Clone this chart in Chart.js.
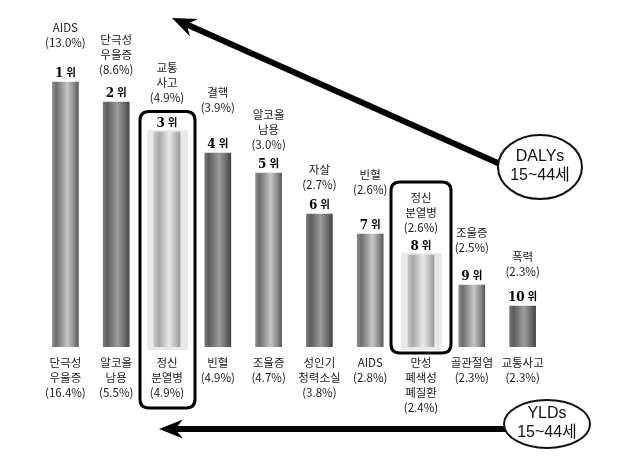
<!DOCTYPE html>
<html>
<head>
<meta charset="utf-8">
<script src="https://cdn.jsdelivr.net/npm/chart.js@4"></script>
<style>
html, body { margin: 0; padding: 0; background: #fff; }
canvas { display: block; }
</style>
</head>
<body>
<canvas id="grafico" width="620" height="466"></canvas>
<script>
// 순위 (DALYs 기준 막대)
var ranks = ['1', '2', '3', '4', '5', '6', '7', '8', '9', '10'];
// 막대 높이 (그림에서 읽은 상대값)
var barHeights = [265, 245, 215, 194, 174, 133, 113, 92, 62, 41];
// 위쪽 라벨: DALYs 15~44세
var dalyLabels = [
    ['AIDS', '(13.0%)'],
    ['단극성', '우울증', '(8.6%)'],
    ['교통', '사고', '(4.9%)'],
    ['결핵', '(3.9%)'],
    ['알코올', '남용', '(3.0%)'],
    ['자살', '(2.7%)'],
    ['빈혈', '(2.6%)'],
    ['정신', '분열병', '(2.6%)'],
    ['조울증', '(2.5%)'],
    ['폭력', '(2.3%)']
];
// 아래쪽 라벨: YLDs 15~44세
var yldLabels = [
    ['단극성', '우울증', '(16.4%)'],
    ['알코올', '남용', '(5.5%)'],
    ['정신', '분열병', '(4.9%)'],
    ['빈혈', '(4.9%)'],
    ['조울증', '(4.7%)'],
    ['성인기', '청력소실', '(3.8%)'],
    ['AIDS', '(2.8%)'],
    ['만성', '폐색성', '폐질환', '(2.4%)'],
    ['골관절염', '(2.3%)'],
    ['교통사고', '(2.3%)']
];
// 정신분열병 위치
var dalyHighlight = 7;
var yldHighlight = 2;

// 막대 색조
var tones = ['mid', 'dark', 'light', 'dark', 'mid', 'dark', 'mid', 'light', 'mid', 'dark'];
var toneStops = {
    mid:   [[0, '#8c8c8c'], [0.15, '#6e6e6e'], [0.58, '#c6c6c6'], [0.85, '#878787'], [1, '#5a5a5a']],
    dark:  [[0, '#7a7a7a'], [0.15, '#5c5c5c'], [0.55, '#9c9c9c'], [0.85, '#666666'], [1, '#434343']],
    light: [[0, '#c4c4c4'], [0.2, '#a9a9a9'], [0.58, '#e8e8e8'], [0.85, '#b8b8b8'], [1, '#9c9c9c']]
};
// 위쪽 라벨 미세 조정
var labelLift = [5, -2, 0, 11, -6, -5, 10, -7, 3, 0];

var FONT = '"Noto Sans CJK KR", "Noto Sans", sans-serif';

function barFill(ctx) {
    var chart = ctx.chart;
    var xs = chart.scales.x;
    if (!xs || ctx.type !== 'data') return '#888';
    var cx = xs.getPixelForValue(ctx.dataIndex);
    if (!isFinite(cx)) return '#888';
    var g = chart.ctx.createLinearGradient(cx - 13, 0, cx + 13, 0);
    toneStops[tones[ctx.dataIndex]].forEach(function (s) { g.addColorStop(s[0], s[1]); });
    return g;
}

function roundRect(c, x, y, w, h, r) {
    c.beginPath();
    c.moveTo(x + r, y);
    c.lineTo(x + w - r, y);
    c.quadraticCurveTo(x + w, y, x + w, y + r);
    c.lineTo(x + w, y + h - r);
    c.quadraticCurveTo(x + w, y + h, x + w - r, y + h);
    c.lineTo(x + r, y + h);
    c.quadraticCurveTo(x, y + h, x, y + h - r);
    c.lineTo(x, y + r);
    c.quadraticCurveTo(x, y, x + r, y);
    c.closePath();
}

function arrow(c, x1, y1, x2, y2) {
    var a = Math.atan2(y2 - y1, x2 - x1);
    var len = 21, half = 9.5;
    var bx = x2 - Math.cos(a) * len, by = y2 - Math.sin(a) * len;
    c.save();
    c.strokeStyle = '#000';
    c.lineWidth = 6;
    c.beginPath();
    c.moveTo(x1, y1);
    c.lineTo(x2 - Math.cos(a) * (len - 6), y2 - Math.sin(a) * (len - 6));
    c.stroke();
    c.fillStyle = '#000';
    c.beginPath();
    c.moveTo(x2, y2);
    c.lineTo(bx - Math.sin(a) * half - Math.cos(a) * 3, by + Math.cos(a) * half - Math.sin(a) * 3);
    c.lineTo(x2 - Math.cos(a) * (len - 5), y2 - Math.sin(a) * (len - 5));
    c.lineTo(bx + Math.sin(a) * half - Math.cos(a) * 3, by - Math.cos(a) * half - Math.sin(a) * 3);
    c.closePath();
    c.fill();
    c.restore();
}

function bubble(c, cx, cy, rx, ry, lines) {
    c.save();
    c.fillStyle = '#fff';
    c.strokeStyle = '#111';
    c.lineWidth = 2;
    c.beginPath();
    c.ellipse(cx, cy, rx, ry, 0, 0, Math.PI * 2);
    c.fill();
    c.stroke();
    c.fillStyle = '#111';
    c.font = '16px "Liberation Sans", ' + FONT;
    c.textAlign = 'center';
    c.textBaseline = 'middle';
    c.fillText(lines[0], cx, cy - 10);
    c.fillText(lines[1], cx, cy + 9);
    c.restore();
}

var decor = {
    id: 'decor',
    beforeDatasetsDraw: function (chart) {
        var c = chart.ctx;
        var bars = chart.getDatasetMeta(0).data;
        c.save();
        c.fillStyle = '#e9e9e9';
        [yldHighlight, dalyHighlight].forEach(function (i) {
            var b = bars[i];
            c.fillRect(b.x - 20, b.y - 2, 41, b.base - b.y + 5);
        });
        c.restore();
    },
    afterDatasetsDraw: function (chart) {
        var c = chart.ctx;
        var bars = chart.getDatasetMeta(0).data;
        c.save();
        c.textAlign = 'center';
        c.textBaseline = 'middle';
        bars.forEach(function (b, i) {
            // 순위
            var ry = b.y - 9.5;
            c.fillStyle = '#000';
            c.font = 'bold 12px "DejaVu Serif", serif';
            var nw = c.measureText(ranks[i]).width;
            c.font = 'bold 10.5px ' + FONT;
            var ww = c.measureText('위').width;
            var sx = b.x - (nw + 3 + ww) / 2;
            c.textAlign = 'left';
            c.font = 'bold 12px "DejaVu Serif", serif';
            c.fillText(ranks[i], sx, ry + 1);
            c.font = 'bold 10.5px ' + FONT;
            c.fillText('위', sx + nw + 3, ry);
            c.textAlign = 'center';

            // 위쪽 라벨
            c.fillStyle = '#1a1a1a';
            c.font = '11.5px ' + FONT;
            var top = dalyLabels[i];
            var lastY = b.y - 34 - labelLift[i];
            top.forEach(function (t, k) {
                c.fillText(t, b.x, lastY - (top.length - 1 - k) * 15);
            });
            // 아래쪽 라벨
            yldLabels[i].forEach(function (t, k) {
                c.fillText(t, b.x, b.base + 16 + k * 15);
            });
        });

        // 정신분열병 상자
        c.strokeStyle = '#000';
        c.lineWidth = 3;
        var by = bars[yldHighlight];
        var yTop = by.y - 20.5;
        var yBot = by.base + 16 + (yldLabels[yldHighlight].length - 1) * 15 + 15;
        roundRect(c, by.x - 27, yTop, 55, yBot - yTop, 9);
        c.stroke();
        var bd = bars[dalyHighlight];
        var dTop = bd.y - 34 - labelLift[dalyHighlight] - (dalyLabels[dalyHighlight].length - 1) * 15 - 16;
        var dBot = bd.base + 6;
        roundRect(c, bd.x - 30, dTop, 60, dBot - dTop, 9);
        c.stroke();
        c.restore();

        // 화살표와 말풍선
        arrow(c, 500, 164, 172, 18);
        bubble(c, 540, 167, 42, 32, ['DALYs', '15~44세']);
        arrow(c, 508, 429, 159, 429);
        bubble(c, 547, 424, 43, 24, ['YLDs', '15~44세']);
    }
};

var grafico = new Chart(document.getElementById('grafico'), {
    type: 'bar',
    data: {
        labels: ranks.map(function (r) { return r + '위'; }),
        datasets: [{
            data: barHeights,
            backgroundColor: barFill,
            borderWidth: 0,
            barThickness: 26
        }]
    },
    options: {
        responsive: false,
        animation: false,
        layout: { padding: { left: 40, right: 72, top: 47, bottom: 119 } },
        scales: {
            x: { display: false },
            y: { display: false, min: 0, max: 300 }
        },
        plugins: {
            legend: { display: false },
            tooltip: { enabled: false }
        }
    },
    plugins: [decor]
});
</script>
</body>
</html>
